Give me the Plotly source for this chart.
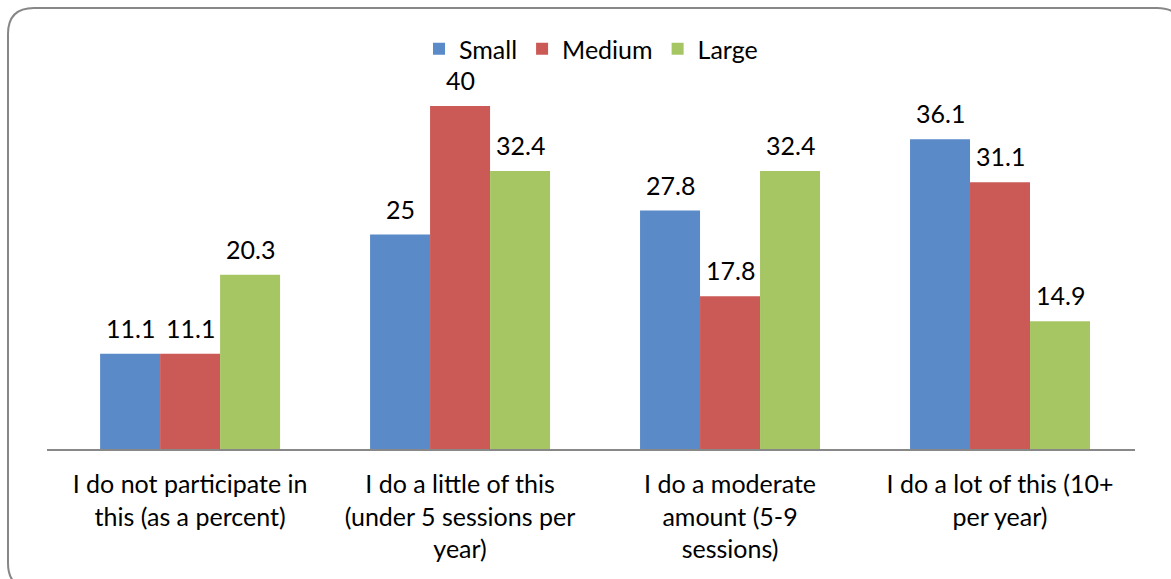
import plotly.graph_objects as go

# Survey responses by organisation size (percent)
categories = [
    "I do not participate in<br>this (as a percent)",
    "I do a little of this<br>(under 5 sessions per<br>year)",
    "I do a moderate<br>amount (5-9<br>sessions)",
    "I do a lot of this (10+<br>per year)",
]
series_names = ["Small", "Medium", "Large"]
small = [11.1, 25, 27.8, 36.1]
medium = [11.1, 40, 17.8, 31.1]
large = [20.3, 32.4, 32.4, 14.9]
colors = ["#5A8AC8", "#CB5A56", "#A6C664"]

W, H = 1171, 579
# plot area in pixels
L, R, T, B = 47, 1135, 63, 449
FONT = "Lato, 'Open Sans', sans-serif"
FS = 25

x_idx = list(range(len(categories)))
bar_w = 60 / 270

fig = go.Figure()
for name, vals, col in zip(series_names, [small, medium, large], colors):
    fig.add_trace(go.Bar(
        x=x_idx, y=vals, name=name, marker=dict(color=col, line=dict(width=0)),
        width=bar_w,
    ))

# value labels above each bar
annotations = []
for s, vals in enumerate([small, medium, large]):
    for i, v in enumerate(vals):
        annotations.append(dict(
            x=i + (s - 1) * bar_w, y=v, xref="x", yref="y",
            text=f"{v:g}", showarrow=False, yanchor="bottom", yshift=9,
            font=dict(family=FONT, size=FS, color="#000000"),
        ))


def px_to_paper(px, py):
    return (px - L) / (R - L), (B - py) / (B - T)


# rounded outer frame
x0, y0, x1, y1, r = 8, 8, 1183, 589, 26
def P(px, py):
    a, b = px_to_paper(px, py)
    return f"{a:.5f},{b:.5f}"
path = (
    f"M {P(x0 + r, y0)} L {P(x1 - r, y0)} Q {P(x1, y0)} {P(x1, y0 + r)} "
    f"L {P(x1, y1 - r)} Q {P(x1, y1)} {P(x1 - r, y1)} "
    f"L {P(x0 + r, y1)} Q {P(x0, y1)} {P(x0, y1 - r)} "
    f"L {P(x0, y0 + r)} Q {P(x0, y0)} {P(x0 + r, y0)} Z"
)

fig.update_layout(
    width=W, height=H,
    margin=dict(l=L, r=W - R, t=T, b=H - B, pad=0),
    paper_bgcolor="white", plot_bgcolor="white",
    barmode="group", bargap=1 / 3, bargroupgap=0,
    font=dict(family=FONT, size=FS, color="#000000"),
    showlegend=True,
    legend=dict(
        orientation="h", x=0.5, xanchor="center", y=1 + (T - 26) / (B - T),
        yanchor="top", font=dict(family=FONT, size=FS), itemwidth=30,
        traceorder="normal", bgcolor="rgba(0,0,0,0)",
    ),
    annotations=annotations,
    shapes=[dict(type="path", xref="paper", yref="paper", path=path,
                 line=dict(color="#878787", width=2), layer="above")],
)
fig.update_xaxes(
    tickvals=x_idx, ticktext=categories, range=[-0.53, 3.5],
    showline=True, linecolor="#888888", linewidth=2, showgrid=False,
    zeroline=False, ticks="", ticklabelstandoff=12,
    tickfont=dict(family=FONT, size=FS, color="#000000"),
)
fig.update_yaxes(range=[0, 45], visible=False, showgrid=False, zeroline=False)

fig.write_html("out.html")
